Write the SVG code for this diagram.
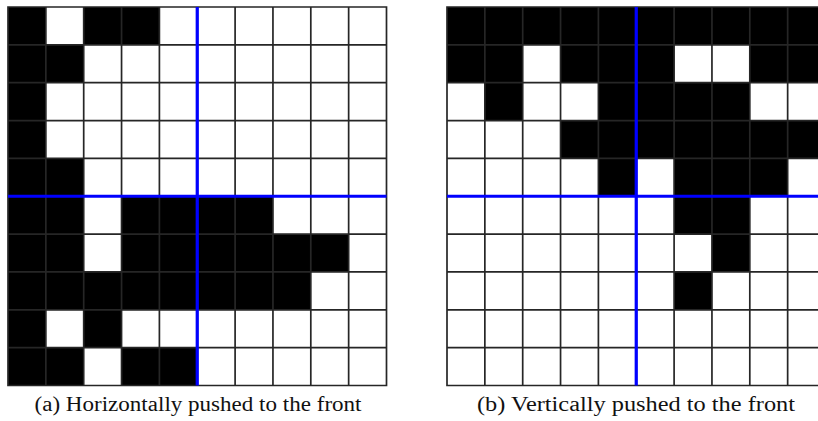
<svg xmlns="http://www.w3.org/2000/svg" width="818" height="421" viewBox="0 0 818 421">
<style>
.blk{fill:#000}
.grid{fill:none;stroke:#262626;stroke-width:1.7}
.blue{stroke:#0000ff;stroke-width:3.2;fill:none}
.cap{font-family:"Liberation Serif","Times New Roman",serif;font-size:20.5px;fill:#111;text-anchor:middle}
</style>
<defs>
<path id="gridlines" class="grid" d="M0,0H378.5V378.5H0Z M37.85,0V378.5 M75.7,0V378.5 M113.55,0V378.5 M151.4,0V378.5 M189.25,0V378.5 M227.1,0V378.5 M264.95,0V378.5 M302.8,0V378.5 M340.65,0V378.5 M0,37.85H378.5 M0,75.7H378.5 M0,113.55H378.5 M0,151.4H378.5 M0,189.25H378.5 M0,227.1H378.5 M0,264.95H378.5 M0,302.8H378.5 M0,340.65H378.5"/>
<path id="bluelines" class="blue" d="M189.25,0V378.5 M0,189.25H378.5"/>
</defs>
<rect width="818" height="421" fill="#fff"/>
<g id="gridA" transform="translate(8,7)">
<rect width="378.5" height="378.5" fill="#fff"/>
<g class="blk">
<rect x="0" y="0" width="37.85" height="37.85"/><rect x="75.7" y="0" width="75.7" height="37.85"/>
<rect x="0" y="37.85" width="75.7" height="37.85"/>
<rect x="0" y="75.7" width="37.85" height="37.85"/>
<rect x="0" y="113.55" width="37.85" height="37.85"/>
<rect x="0" y="151.4" width="75.7" height="37.85"/>
<rect x="0" y="189.25" width="75.7" height="37.85"/><rect x="113.55" y="189.25" width="151.4" height="37.85"/>
<rect x="0" y="227.1" width="75.7" height="37.85"/><rect x="113.55" y="227.1" width="227.1" height="37.85"/>
<rect x="0" y="264.95" width="302.8" height="37.85"/>
<rect x="0" y="302.8" width="37.85" height="37.85"/><rect x="75.7" y="302.8" width="37.85" height="37.85"/>
<rect x="0" y="340.65" width="75.7" height="37.85"/><rect x="113.55" y="340.65" width="75.7" height="37.85"/>
</g>
<use href="#gridlines"/>
<use href="#bluelines"/>
</g>
<g id="gridB" transform="translate(447,7)">
<rect width="378.5" height="378.5" fill="#fff"/>
<g class="blk">
<rect x="0" y="0" width="378.5" height="37.85"/>
<rect x="0" y="37.85" width="75.7" height="37.85"/><rect x="113.55" y="37.85" width="113.55" height="37.85"/><rect x="302.8" y="37.85" width="75.7" height="37.85"/>
<rect x="37.85" y="75.7" width="37.85" height="37.85"/><rect x="151.4" y="75.7" width="151.4" height="37.85"/>
<rect x="113.55" y="113.55" width="264.95" height="37.85"/>
<rect x="151.4" y="151.4" width="37.85" height="37.85"/><rect x="227.1" y="151.4" width="113.55" height="37.85"/>
<rect x="227.1" y="189.25" width="75.7" height="37.85"/>
<rect x="264.95" y="227.1" width="37.85" height="37.85"/>
<rect x="227.1" y="264.95" width="37.85" height="37.85"/>
</g>
<use href="#gridlines"/>
<use href="#bluelines"/>
</g>
<g id="captions">
<text class="cap" x="198" y="411" textLength="327" lengthAdjust="spacingAndGlyphs">(a) Horizontally pushed to the front</text>
<text class="cap" x="636" y="411" textLength="318" lengthAdjust="spacingAndGlyphs">(b) Vertically pushed to the front</text>
</g>
</svg>
